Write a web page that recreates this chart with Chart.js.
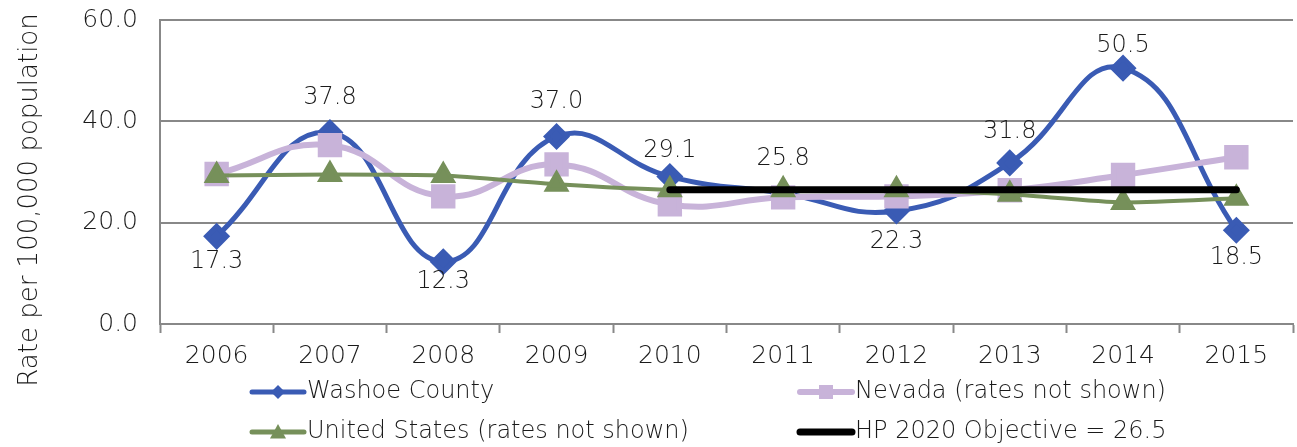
<!DOCTYPE html>
<html>
<head>
<meta charset="utf-8">
<script src="https://cdn.jsdelivr.net/npm/chart.js@4/dist/chart.umd.min.js"></script>
<style>
  html, body { margin: 0; padding: 0; background: #fff; }
  #wrap { width: 1297px; height: 447px; position: relative; }
</style>
</head>
<body>
<div id="wrap"><canvas id="rateChart" width="1297" height="447"></canvas></div>
<script>
// Données
const years = ["2006", "2007", "2008", "2009", "2010", "2011", "2012", "2013", "2014", "2015"];
const washoe = [17.3, 37.8, 12.3, 37.0, 29.1, 25.8, 22.3, 31.8, 50.5, 18.5];
const nevada = [29.6, 35.3, 25.2, 31.5, 23.6, 25.0, 25.2, 26.4, 29.4, 32.9];
const usa = [29.3, 29.5, 29.3, 27.6, 26.5, 26.5, 26.5, 25.6, 24.0, 24.8];
const hp2020 = [null, null, null, null, 26.5, 26.5, 26.5, 26.5, 26.5, 26.5];
const yTicks = [0, 20, 40, 60];

const FONT_FAMILY = "'DejaVu Sans', sans-serif";
const FONT_WEIGHT = "200";
const TEXT_COLOR = "#1a1a1a";
const GRID_COLOR = "#888888";

// Décalage vertical (px) des étiquettes de Washoe par rapport au point
const labelOffset = [25, -35, 20, -35, -26, -35, 31, -31, -22, 27];

// Dessin d'un marqueur simple pour la légende
function drawMarker(ctx, style, x, y, r, color) {
  ctx.fillStyle = color;
  ctx.beginPath();
  if (style === "diamond") {
    ctx.moveTo(x, y - r); ctx.lineTo(x + r, y); ctx.lineTo(x, y + r); ctx.lineTo(x - r, y);
  } else if (style === "square") {
    ctx.rect(x - r, y - r, 2 * r, 2 * r);
  } else if (style === "triangle") {
    ctx.moveTo(x, y - r); ctx.lineTo(x + r, y + r * 0.8); ctx.lineTo(x - r, y + r * 0.8);
  }
  ctx.closePath();
  ctx.fill();
}

const legendItems = [
  { text: "Washoe County", color: "#3A5BB4", width: 5, marker: "diamond", r: 7, x: 252, y: 392 },
  { text: "Nevada (rates not shown)", color: "#C8B3D9", width: 6, marker: "square", r: 7, x: 800, y: 392 },
  { text: "United States (rates not shown)", color: "#76905A", width: 5, marker: "triangle", r: 8, x: 252, y: 432 },
  { text: "HP 2020 Objective = 26.5", color: "#000000", width: 7, marker: null, r: 0, x: 800, y: 432 }
];

const textFont = FONT_WEIGHT + " 24px " + FONT_FAMILY;

// Plugin : étiquettes, titre de l'axe Y et légende
const overlay = {
  id: "overlay",
  afterDatasetsDraw(chart) {
    const ctx = chart.ctx;
    ctx.save();
    ctx.font = textFont;
    ctx.fillStyle = TEXT_COLOR;
    ctx.textAlign = "center";
    ctx.textBaseline = "middle";
    const meta = chart.getDatasetMeta(0);
    meta.data.forEach((pt, i) => {
      ctx.fillText(washoe[i].toFixed(1), pt.x, pt.y + labelOffset[i]);
    });
    ctx.restore();
  },
  afterDraw(chart) {
    const ctx = chart.ctx;
    ctx.save();
    // Titre de l'axe Y
    ctx.font = FONT_WEIGHT + " 26px " + FONT_FAMILY;
    ctx.fillStyle = TEXT_COLOR;
    ctx.translate(30, 200);
    ctx.rotate(-Math.PI / 2);
    ctx.textAlign = "center";
    ctx.textBaseline = "middle";
    ctx.fillText("Rate per 100,000 population", 0, 0);
    ctx.restore();

    // Légende
    ctx.save();
    ctx.font = textFont;
    ctx.textBaseline = "middle";
    legendItems.forEach((item) => {
      ctx.strokeStyle = item.color;
      ctx.lineWidth = item.width;
      ctx.lineCap = "round";
      ctx.beginPath();
      ctx.moveTo(item.x, item.y);
      ctx.lineTo(item.x + 52, item.y);
      ctx.stroke();
      if (item.marker) drawMarker(ctx, item.marker, item.x + 26, item.y, item.r, item.color);
      ctx.fillStyle = TEXT_COLOR;
      ctx.textAlign = "left";
      ctx.fillText(item.text, item.x + 55, item.y);
    });
    ctx.restore();
  }
};

document.addEventListener("DOMContentLoaded", () => {
  const ctx = document.getElementById("rateChart").getContext("2d");

  new Chart(ctx, {
    type: "line",
    data: {
      labels: years,
      datasets: [
        {
          label: "Washoe County",
          data: washoe,
          borderColor: "#3A5BB4",
          backgroundColor: "#3A5BB4",
          borderWidth: 5,
          tension: 0.45,
          pointStyle: "rectRot",
          pointRadius: 10,
          pointHoverRadius: 10,
          order: 3,
        },
        {
          label: "Nevada (rates not shown)",
          data: nevada,
          borderColor: "#C8B3D9",
          backgroundColor: "#C8B3D9",
          borderWidth: 6,
          tension: 0.45,
          pointStyle: "rect",
          pointRadius: 13,
          pointHoverRadius: 13,
          order: 2,
        },
        {
          label: "United States (rates not shown)",
          data: usa,
          borderColor: "#76905A",
          backgroundColor: "#76905A",
          borderWidth: 4,
          tension: 0.2,
          pointStyle: "triangle",
          pointRadius: 11,
          pointHoverRadius: 11,
          order: 1,
        },
        {
          label: "HP 2020 Objective = 26.5",
          data: hp2020,
          borderColor: "#000000",
          backgroundColor: "#000000",
          borderWidth: 7,
          borderCapStyle: "round",
          pointRadius: 0,
          tension: 0,
          spanGaps: false,
          order: 0,
        },
      ],
    },
    options: {
      responsive: false,
      animation: false,
      maintainAspectRatio: false,
      layout: { autoPadding: false, padding: { top: 20, right: 4, left: 0, bottom: 0 } },
      plugins: {
        legend: { display: false },
        tooltip: { enabled: false },
      },
      scales: {
        x: {
          offset: true,
          afterFit: (scale) => {
            scale.height = 123;
            scale.paddingLeft = 0;
            scale.paddingRight = 0;
          },
          grid: {
            offset: true,
            drawOnChartArea: false,
            drawTicks: true,
            tickLength: 9,
            tickColor: GRID_COLOR,
            tickWidth: 2,
          },
          border: { display: true, color: GRID_COLOR, width: 2 },
          ticks: {
            color: TEXT_COLOR,
            font: { family: FONT_FAMILY, size: 25, weight: FONT_WEIGHT },
            padding: 8,
            maxRotation: 0,
          },
        },
        y: {
          min: 0,
          max: 60,
          afterFit: (scale) => {
            scale.width = 160;
            scale.paddingTop = 0;
            scale.paddingBottom = 0;
          },
          afterBuildTicks: (scale) => { scale.ticks = yTicks.map((v) => ({ value: v })); },
          grid: { color: GRID_COLOR, lineWidth: 2, drawTicks: false },
          border: { display: true, color: GRID_COLOR, width: 2 },
          ticks: {
            color: TEXT_COLOR,
            font: { family: FONT_FAMILY, size: 25, weight: FONT_WEIGHT },
            padding: 22,
            callback: (v) => Number(v).toFixed(1),
          },
        },
      },
    },
    plugins: [overlay],
  });
});
</script>
</body>
</html>
